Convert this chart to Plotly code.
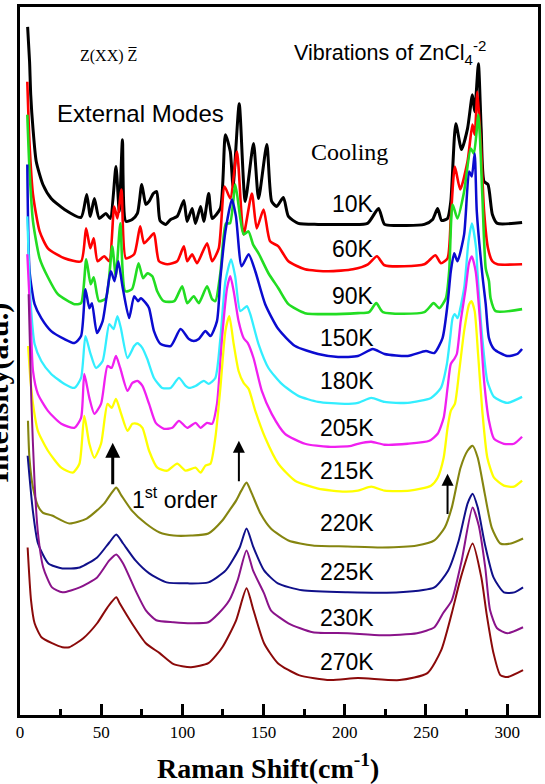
import plotly.graph_objects as go

# ---------------- data (Raman shift in cm-1, intensity in a.u.) ----------------
temps = ["10K", "60K", "90K", "150K", "180K", "205K", "215K", "220K", "225K", "230K", "270K"]

x_10K = [4.7, 5.9, 6.6, 8.0, 10.0, 14.1, 19.2, 27.4, 37.6, 41.1, 43.3, 45.8, 48.8, 52.9, 55.6, 59.1, 61.1, 63.1,
         65.2, 69.1, 72.3, 75.0, 77.5, 79.5, 82.1, 84.2, 86.2, 89.7, 92.8, 96.8, 100.9, 102.9, 106.0, 108.1,
         111.2, 113.2, 116.2, 118.3, 123.4, 126.5, 129.5, 131.2, 135.0, 138.7, 143.8, 146.9, 152.0, 155.0,
         158.1, 162.2, 165.3, 171.4, 183.6, 200, 214, 220.8, 224.5, 232.7, 249, 254.1, 257.2, 259.6, 263.3,
         265.3, 268.4, 271.9, 275.6, 278.6, 280, 282.3, 284, 285.8, 288.2, 290.9, 294, 309.2]
i_10K = [690, 655, 622, 588, 555, 532, 518, 507, 499, 522, 500, 518, 498, 503, 498, 550, 505, 577,
         495, 497, 503, 532, 512, 515, 523, 525, 496, 492, 497, 500, 516, 495, 508, 493,
         510, 495, 523, 498, 508, 582, 565, 530, 613, 515, 573, 518, 572, 515,
         510, 519, 500, 493, 492, 492, 493, 508, 492, 491, 492, 497, 508, 496, 498,
         515, 593, 567, 588, 622, 605, 653, 588, 535, 532, 502, 493, 494]

x_60K = [4.5, 5.9, 8.0, 12.1, 17.2, 27.4, 37.6, 40.7, 43.3, 45.4, 47.8, 51.9, 55.0, 58.0, 60.0, 62.5, 65.2,
         70.3, 74.0, 76.4, 79.5, 82.5, 85.6, 90.7, 96.8, 100.9, 103, 106, 109, 115.2, 118.3, 122.4, 126,
         129.5, 133.6, 137.7, 142.8, 145.8, 150, 154, 159.1, 165.3, 175.5, 189.8, 205, 214.3, 219.8, 224.5,
         249, 255.8, 259.2, 263.3, 265.3, 267.8, 271.1, 275.6, 278.6, 280, 281.7, 283.8, 285.8, 288.2,
         290.9, 294, 309.2]
i_60K = [635, 572, 522, 485, 468, 458, 455, 488, 468, 478, 455, 460, 455, 510, 498, 527, 458,
         462, 490, 473, 478, 483, 455, 452, 455, 470, 455, 462, 453, 473, 455, 468, 530,
         518, 565, 482, 523, 488, 507, 475, 470, 455, 447, 445, 447, 452, 460, 451,
         452, 461, 453, 458, 498, 550, 527, 555, 592, 582, 625, 572, 505, 468,
         455, 452, 452]

x_90K = [4.5, 5.9, 8.0, 12.1, 17.2, 23.3, 33.5, 37.6, 40.8, 43.5, 45.4, 48.6, 52.9, 56.8, 59.0, 61.8, 64.8,
         69.0, 73.0, 75.8, 78.5, 81.5, 84.5, 88.5, 95, 99.9, 103, 107, 110.1, 115.2, 118.3, 120.3, 123.4,
         126.8, 129.3, 132.6, 135.5, 137.7, 140.7, 143.5, 146.9, 153, 159.1, 165.3, 175.5, 189.8, 208.1,
         215, 219.4, 223.5, 249, 254.7, 258.2, 262.3, 264.3, 266.4, 269.4, 273.5, 277.6, 279.5, 282.3,
         284.7, 286.8, 288.8, 289.8, 292.9, 309.2]
i_90K = [602, 545, 495, 458, 439, 422, 412, 413, 457, 432, 439, 415, 418, 470, 440, 493, 425,
         427, 453, 438, 443, 440, 425, 415, 415, 430, 413, 420, 413, 430, 417, 415, 443,
         493, 493, 532, 500, 482, 485, 472, 463, 443, 428, 412, 403, 402, 403,
         404, 413, 404, 404, 413, 408, 418, 445, 512, 498, 525, 568, 563, 602,
         522, 448, 435, 418, 405, 407]

x_150K = [4.5, 5.9, 9, 13.1, 19.2, 27.4, 33.5, 37.6, 40.3, 42.7, 44.3, 47.4, 50.9, 56, 58.2, 60.5, 63.1,
          67.2, 70.3, 72.7, 74.4, 77.5, 79.5, 82.5, 86.6, 92.8, 98.9, 104, 107, 110.1, 114.2, 117.3, 121.3,
          123.4, 126.5, 130.5, 133, 136.5, 140.8, 144.9, 151, 159.1, 169.4, 183.6, 195.9, 208.1, 217.3,
          224.5, 238.8, 250, 255.1, 260.2, 263.3, 265.3, 267.4, 269.4, 273.5, 276.6, 278.2, 280, 281.3,
          284.7, 286.8, 288.8, 291.9, 300, 306.2, 309.2]
i_150K = [552, 445, 412, 398, 385, 377, 373, 380, 427, 408, 413, 383, 395, 445, 435, 455, 430,
          398, 420, 415, 418, 413, 408, 385, 372, 370, 387, 377, 375, 377, 385, 380, 395,
          438, 485, 517, 500, 450, 462, 445, 412, 387, 370, 362, 359, 360, 367,
          362, 360, 365, 363, 378, 412, 445, 463, 455, 482, 545, 540, 563, 505,
          442, 412, 378, 367, 360, 362, 367]

x_180K = [4.5, 6.5, 9, 13.1, 19.2, 27.4, 33.5, 37.6, 40.3, 43.3, 46.8, 50.9, 55, 57.6, 60, 62.1, 66.2,
          70.3, 72.3, 75.4, 78.4, 82.5, 87.6, 92.8, 97.9, 102, 104, 108.1, 113.2, 116.2, 120.3, 123.4,
          126.5, 130, 132.5, 135.7, 139.7, 141.8, 146.9, 153, 161.2, 171.4, 183.6, 200, 208.1, 216.3,
          224.5, 238.8, 253.1, 259.2, 262.9, 264.9, 266.4, 267.8, 269.4, 273.5, 276.2, 278.3, 280.9,
          281.7, 284.7, 287.8, 291.9, 300, 309.2]
i_180K = [500, 415, 372, 355, 342, 332, 328, 338, 380, 363, 348, 355, 392, 387, 400, 388, 358,
          370, 373, 368, 357, 338, 328, 328, 338, 330, 328, 330, 335, 332, 338, 378,
          435, 457, 440, 405, 410, 402, 372, 348, 332, 320, 314, 312, 313, 318,
          314, 313, 318, 328, 352, 378, 398, 402, 398, 428, 475, 493, 468,
          445, 378, 335, 319, 313, 319]

x_205K = [4.5, 6.8, 8, 11, 17.2, 25.4, 33.5, 37.6, 39.6, 42.7, 45.8, 49.9, 53.9, 56.4, 59.1, 61.7, 66.2,
          69.2, 72.3, 75.4, 79.5, 83.6, 88.7, 93.8, 97.9, 103, 108.1, 111.2, 115.2, 118.3, 121.3, 124.4,
          127.5, 129.5, 131.6, 134.6, 137.7, 140.3, 143.8, 148.9, 155, 163.2, 175.5, 189.8, 204, 208.1,
          216.3, 224.5, 238.8, 252.1, 257.2, 260.9, 263.3, 265.3, 267.4, 269, 271.4, 274.5, 276.5, 278.2,
          280.6, 283.3, 285.8, 288.8, 291.9, 298, 304.2, 309.2]
i_205K = [462, 385, 345, 322, 305, 292, 288, 298, 342, 318, 302, 312, 350, 348, 360, 348, 325,
          333, 335, 330, 312, 293, 287, 288, 295, 288, 293, 288, 293, 292, 312, 378,
          428, 440, 425, 395, 378, 373, 358, 325, 302, 282, 272, 269, 270, 272,
          274, 271, 272, 275, 282, 298, 328, 352, 357, 362, 395, 428, 453, 460,
          445, 395, 335, 295, 277, 272, 272, 279]

x_215K = [5, 6.5, 8, 11, 17.2, 25.4, 32.5, 36.6, 39.6, 42.7, 45.8, 49.9, 53.9, 56.5, 59.1, 62.1, 66.2,
          69.2, 72.3, 75.4, 79.5, 84.6, 90.7, 96.8, 102, 108.1, 111.2, 114.2, 117.3, 120.3, 123.4, 126.5,
          128.9, 131.6, 134.6, 137.7, 140.8, 144.9, 151, 159.1, 169.4, 183.6, 200, 208.1, 216.3, 224.5,
          240, 253.1, 257.2, 260.9, 263.3, 265.3, 267.8, 270.5, 273.5, 276.6, 278, 280, 282.1, 284.7,
          287.8, 291.9, 298, 304.2, 309.2]
i_215K = [370, 335, 312, 285, 265, 248, 243, 252, 300, 272, 258, 272, 312, 308, 317, 303, 285,
          292, 292, 288, 265, 248, 245, 252, 245, 248, 243, 250, 252, 278, 328, 385,
          400, 372, 345, 333, 327, 305, 278, 252, 235, 227, 224, 225, 229, 225,
          225, 230, 238, 258, 288, 305, 312, 345, 385, 412, 415, 405, 362, 305,
          258, 238, 230, 229, 235]

x_220K = [4.9, 5.8, 8, 11, 14, 19.7, 30.4, 41.1, 51.8, 56.1, 59.3, 62.5, 68.9, 77.5, 86, 94.6, 105.3,
          116, 124.6, 128.9, 133.1, 136.3, 139.5, 142.8, 148.1, 154.5, 165.3, 180.3, 201.7, 223, 244.5,
          255.2, 261.6, 265.9, 271.3, 275.6, 278.7, 281.9, 286.2, 290.5, 295.8, 302.3, 309.8]
i_220K = [295, 258, 228, 210, 203, 200, 192, 197, 212, 222, 228, 220, 205, 192, 183, 180, 180,
          182, 195, 205, 215, 225, 233, 222, 202, 187, 175, 170, 169, 168, 170,
          175, 188, 208, 248, 265, 270, 258, 222, 188, 172, 172, 177]

x_225K = [4.7, 7.9, 11.1, 17.5, 26.1, 36.8, 47.5, 55, 59.3, 63.5, 71.1, 79.6, 90.3, 103.2, 116, 126.7,
          135.3, 139.5, 143.8, 150.3, 158.8, 173.8, 201.7, 233.8, 255.2, 263.7, 270.2, 275.6, 278.7,
          281.9, 286.2, 291.6, 298, 304.4, 309.8]
i_225K = [260, 205, 172, 152, 147, 148, 158, 173, 181, 172, 155, 142, 133, 132, 133, 145,
          168, 187, 168, 145, 132, 125, 123, 123, 128, 145, 175, 212, 222,
          208, 172, 138, 123, 123, 128]

x_230K = [5.3, 7, 9, 11.1, 14.3, 19.7, 26.1, 36.8, 47.5, 55, 59.3, 63.5, 71.1, 77.5, 83.9, 94.6, 105.3,
          116, 122.4, 128.9, 134, 139.5, 143.5, 150.3, 154.5, 165.3, 180.3, 201.7, 223, 244.5, 255.2,
          260.5, 265.9, 272, 278.7, 282.5, 286.5, 289.5, 293.8, 300.1, 309.8]
i_230K = [422, 315, 232, 182, 148, 128, 123, 128, 138, 155, 161, 152, 125, 105, 95, 93, 92,
          93, 102, 115, 135, 165, 145, 122, 105, 92, 83, 82, 80, 82, 88,
          102, 115, 155, 208, 190, 148, 105, 87, 82, 88]

x_270K = [4.7, 6.8, 9, 13.2, 19.7, 26.1, 30.4, 39, 47.5, 53.9, 59.3, 61.4, 68.9, 77.5, 86, 94.6, 105.3,
          116, 124.6, 133.1, 139.5, 143.8, 150.3, 158.8, 171.7, 191, 208.1, 233.8, 250.9, 259.4, 265.9,
          271.5, 278.7, 284.1, 287.3, 291.6, 295.8, 300.1, 309.8]
i_270K = [168, 115, 92, 78, 72, 68, 68, 77, 92, 108, 118, 112, 92, 72, 62, 51, 48,
          52, 68, 95, 127, 105, 72, 52, 40, 35, 37, 35, 42, 65, 102,
          138, 172, 138, 102, 62, 40, 38, 45]

x_ticks = [0, 50, 100, 150, 200, 250, 300]

# ---------------- styles / layout helpers ----------------
series = [(x_10K, i_10K), (x_60K, i_60K), (x_90K, i_90K), (x_150K, i_150K), (x_180K, i_180K),
          (x_205K, i_205K), (x_215K, i_215K), (x_220K, i_220K), (x_225K, i_225K), (x_230K, i_230K),
          (x_270K, i_270K)]
colors = ["#000000", "#ff0000", "#22dd22", "#0b0bd0", "#33eeff", "#f020f0", "#ffff00",
          "#858510", "#10108a", "#8a138a", "#8b0a0a"]
widths = [3, 2.6, 2.6, 2.5, 2.3, 2.3, 2.3, 2.1, 2.0, 2.0, 2.0]
label_pos = [512, 467, 420, 378, 335, 288, 245, 193, 143, 97, 53]

SANS = "Liberation Sans, Arial, sans-serif"
SERIF = "Liberation Serif, Times New Roman, serif"

fig = go.Figure()
for (xs, ys), name, c, w in zip(series, temps, colors, widths):
    fig.add_trace(go.Scatter(x=xs, y=ys, mode="lines", name=name,
                             line=dict(color=c, width=w, shape="spline", smoothing=0.6)))

ann = []
for name, yv in zip(temps, label_pos):
    ann.append(dict(x=219.5, y=yv, xref="x", yref="y", text=name, showarrow=False,
                    xanchor="right", yanchor="middle", font=dict(family=SANS, size=23, color="black")))

ann += [
    dict(x=74, y=603, xref="x", yref="y", text="External Modes", showarrow=False,
         xanchor="center", yanchor="middle", font=dict(family=SANS, size=24, color="black")),
    dict(x=167.5, y=664, xref="x", yref="y", text="Vibrations of ZnCl<sub>4</sub><sup>-2</sup>",
         showarrow=False, xanchor="left", yanchor="middle", font=dict(family=SANS, size=21.5, color="black")),
    dict(x=54.4, y=661, xref="x", yref="y", text="Z(XX) Z\u0305", showarrow=False,
         xanchor="center", yanchor="middle", font=dict(family=SERIF, size=16, color="black")),
    dict(x=203.2, y=565, xref="x", yref="y", text="Cooling", showarrow=False,
         xanchor="center", yanchor="middle", font=dict(family=SERIF, size=24, color="black")),
    dict(x=67.8, y=218, xref="x", yref="y", text="1<sup>st</sup> order", showarrow=False,
         xanchor="left", yanchor="middle", font=dict(family=SANS, size=23, color="black")),
    # arrows
    dict(x=57.1, y=273, ax=57.1, ay=230, xref="x", yref="y", axref="x", ayref="y", text="",
         showarrow=True, arrowhead=2, arrowsize=1, arrowwidth=3, arrowcolor="black"),
    dict(x=134.8, y=275, ax=134.8, ay=233, xref="x", yref="y", axref="x", ayref="y", text="",
         showarrow=True, arrowhead=2, arrowsize=1.2, arrowwidth=2, arrowcolor="black"),
    dict(x=263.3, y=242, ax=263.3, ay=200, xref="x", yref="y", axref="x", ayref="y", text="",
         showarrow=True, arrowhead=2, arrowsize=1.2, arrowwidth=2, arrowcolor="black"),
    # axis titles
    dict(x=0.478, y=-0.073, xref="paper", yref="paper", text="<b>Raman Shift(cm<sup>-1</sup>)</b>",
         showarrow=False, xanchor="center", yanchor="middle", font=dict(family=SERIF, size=28, color="black")),
    dict(x=-0.006, y=0.455, xref="paper", yref="paper", text="<b>Intensity(a.u.)</b>", textangle=-90,
         showarrow=False, xanchor="right", yanchor="middle", font=dict(family=SERIF, size=30, color="black")),
]

fig.update_layout(
    width=545, height=784,
    margin=dict(l=20, r=4, t=5, b=69),
    paper_bgcolor="white", plot_bgcolor="white",
    showlegend=False,
    annotations=ann,
    xaxis=dict(range=[0, 319], showgrid=False, zeroline=False, showline=True, mirror=True,
               linecolor="black", linewidth=3, ticks="inside", ticklen=11, tickwidth=2.5,
               tickcolor="black", tickvals=x_ticks, ticklabelstandoff=0,
               tickfont=dict(family=SERIF, size=17, color="black"),
               minor=dict(tickvals=[25, 75, 125, 175, 225, 275], ticks="inside", ticklen=6,
                          tickwidth=2.5, tickcolor="black")),
    yaxis=dict(range=[0, 710], showgrid=False, zeroline=False, showline=True, mirror=True,
               linecolor="black", linewidth=3, ticks="", showticklabels=False),
)

fig.write_html("out.html")
